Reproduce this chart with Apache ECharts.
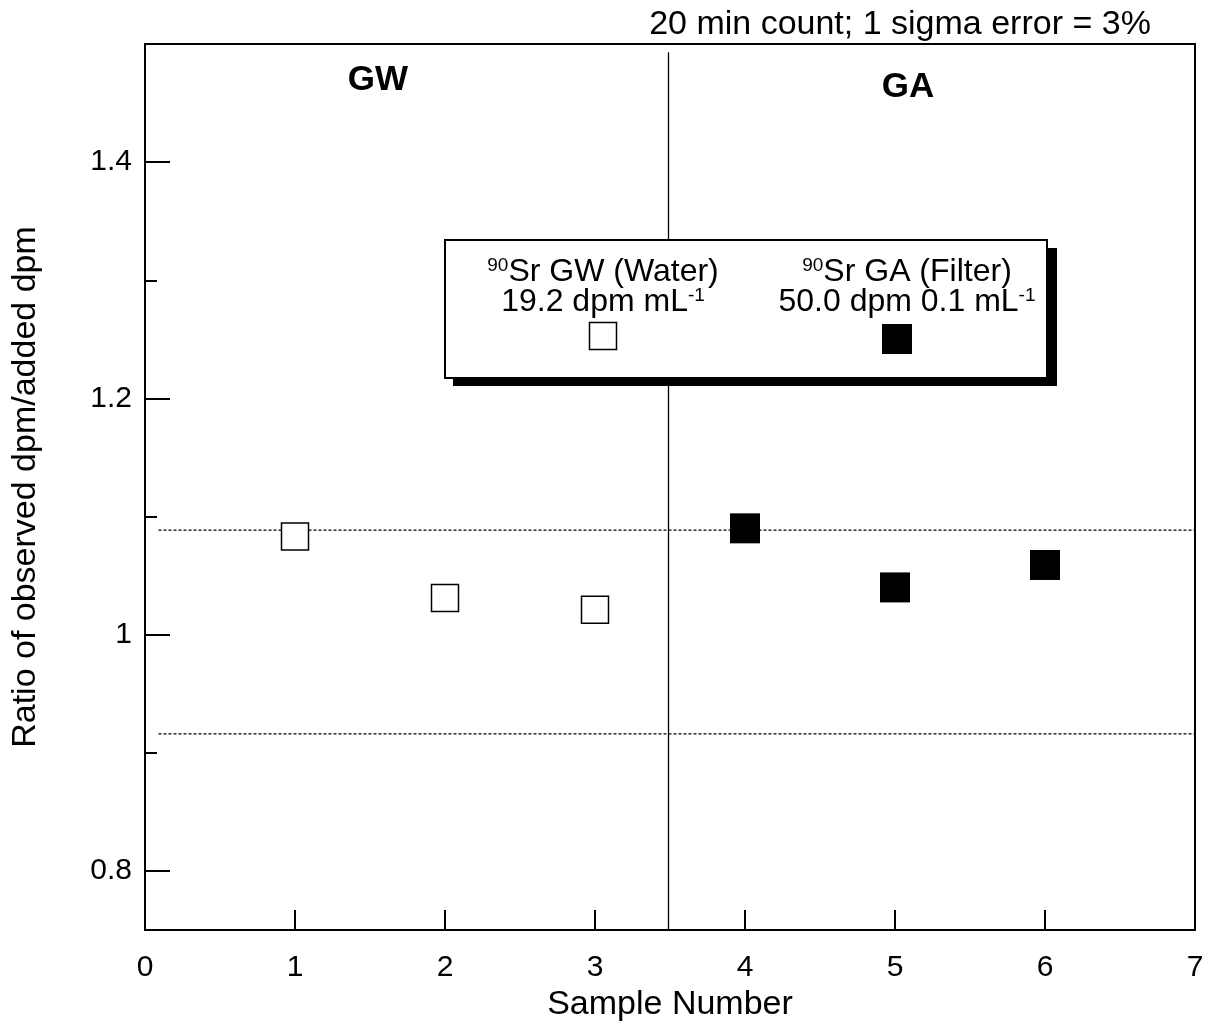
<!DOCTYPE html>
<html>
<head>
<meta charset="utf-8">
<script src="https://cdn.jsdelivr.net/npm/echarts@6/dist/echarts.min.js"></script>
<style>html,body{margin:0;padding:0;background:#fff;}#c{width:1209px;height:1032px;}</style>
</head>
<body>
<div id="c"></div>
<script>
// ---- data ----
var gwSamples = [1, 2, 3];
var gwRatios = [1.083, 1.031, 1.021];
var gaSamples = [4, 5, 6];
var gaRatios = [1.090, 1.040, 1.059];
var limitUpper = 1.0885;
var limitLower = 0.916;
var dividerX = 3.49;
var yMajorTicks = [0.8, 1.0, 1.2, 1.4];
var yMinorTicks = [0.9, 1.1, 1.3];
var xTicks = [0, 1, 2, 3, 4, 5, 6, 7];

var FONT = '"Liberation Sans", Arial, sans-serif';
var chart = echarts.init(document.getElementById('c'), null, {renderer: 'canvas'});

function pairs(xs, ys) { return xs.map(function (x, i) { return [x, ys[i]]; }); }

var supRich = {
  s: {fontFamily: FONT, fontSize: 19, fill: '#000', verticalAlign: 'top', lineHeight: 32},
  m: {fontFamily: FONT, fontSize: 32, fill: '#000', lineHeight: 32}
};

var option = {
  backgroundColor: '#fff',
  animation: false,
  grid: {left: 145, right: 14, top: 44, bottom: 102, show: true, borderColor: '#000', borderWidth: 2, containLabel: false},
  xAxis: {
    type: 'value', min: 0, max: 7, interval: 1,
    name: 'Sample Number', nameLocation: 'middle', nameGap: 54,
    nameTextStyle: {fontFamily: FONT, fontSize: 34, color: '#000'},
    axisLine: {show: true, onZero: false, lineStyle: {color: '#000', width: 2}},
    axisTick: {show: true, inside: true, length: 20, lineStyle: {color: '#000', width: 2}},
    axisLabel: {fontFamily: FONT, fontSize: 30, color: '#000', margin: 23, customValues: xTicks},
    splitLine: {show: false}
  },
  yAxis: [{
    type: 'value', min: 0.75, max: 1.5,
    name: 'Ratio of observed dpm/added dpm', nameLocation: 'middle', nameGap: 102,
    nameTextStyle: {fontFamily: FONT, fontSize: 34, color: '#000'},
    axisLine: {show: true, onZero: false, lineStyle: {color: '#000', width: 2}},
    axisTick: {show: true, inside: true, length: 25, lineStyle: {color: '#000', width: 2}, customValues: yMajorTicks},
    axisLabel: {fontFamily: FONT, fontSize: 30, color: '#000', margin: 13, customValues: yMajorTicks,
      formatter: function (v) { return String(Math.round(v * 10) / 10); }},
    splitLine: {show: false}
  }, {
    type: 'value', min: 0.75, max: 1.5, position: 'left',
    axisLine: {show: false},
    axisTick: {show: true, inside: true, length: 12, lineStyle: {color: '#000', width: 2}, customValues: yMinorTicks},
    axisLabel: {show: false, customValues: yMinorTicks},
    splitLine: {show: false}
  }],
  series: [
    {type: 'line', data: [[0.09, limitUpper], [7, limitUpper]], symbol: 'none', silent: true,
      lineStyle: {color: '#000', width: 1.2, type: [3, 2]}, z: 1},
    {type: 'line', data: [[0.09, limitLower], [7, limitLower]], symbol: 'none', silent: true,
      lineStyle: {color: '#000', width: 1.2, type: [3, 2]}, z: 1},
    {type: 'line', data: [[dividerX, 1.493], [dividerX, 0.75]], symbol: 'none', silent: true,
      lineStyle: {color: '#000', width: 1.3}, z: 1},
    {name: 'GW', type: 'scatter', data: pairs(gwSamples, gwRatios), symbol: 'rect', symbolSize: 27,
      itemStyle: {color: '#fff', borderColor: '#000', borderWidth: 1.5, opacity: 1}, z: 3},
    {name: 'GA', type: 'scatter', data: pairs(gaSamples, gaRatios), symbol: 'rect', symbolSize: 30,
      itemStyle: {color: '#000', opacity: 1}, z: 3}
  ],
  graphic: [
    {type: 'text', x: 900, y: 25, style: {text: '20 min count; 1 sigma error = 3%', font: '34px ' + FONT, fill: '#000', textAlign: 'center', textVerticalAlign: 'middle'}},
    {type: 'text', x: 378, y: 80, style: {text: 'GW', font: 'bold 35px ' + FONT, fill: '#000', textAlign: 'center', textVerticalAlign: 'middle'}},
    {type: 'text', x: 908, y: 87, style: {text: 'GA', font: 'bold 35px ' + FONT, fill: '#000', textAlign: 'center', textVerticalAlign: 'middle'}},
    // legend box shadow + box
    {type: 'rect', shape: {x: 453, y: 248, width: 604, height: 138}, style: {fill: '#000'}, z: 10},
    {type: 'rect', shape: {x: 445, y: 240, width: 602, height: 138}, style: {fill: '#fff', stroke: '#000', lineWidth: 2}, z: 11},
    {type: 'text', z: 12, x: 603, y: 272, style: {text: '{s|90}{m|Sr GW (Water)}', textAlign: 'center', textVerticalAlign: 'middle', rich: supRich}},
    {type: 'text', z: 12, x: 603, y: 302, style: {text: '{m|19.2 dpm mL}{s|-1}', textAlign: 'center', textVerticalAlign: 'middle', rich: supRich}},
    {type: 'text', z: 12, x: 907, y: 272, style: {text: '{s|90}{m|Sr GA (Filter)}', textAlign: 'center', textVerticalAlign: 'middle', rich: supRich}},
    {type: 'text', z: 12, x: 907, y: 302, style: {text: '{m|50.0 dpm 0.1 mL}{s|-1}', textAlign: 'center', textVerticalAlign: 'middle', rich: supRich}},
    {type: 'rect', z: 12, shape: {x: 589.5, y: 322.5, width: 27, height: 27}, style: {fill: '#fff', stroke: '#000', lineWidth: 1.5}},
    {type: 'rect', z: 12, shape: {x: 882, y: 324, width: 30, height: 30}, style: {fill: '#000'}}
  ]
};
chart.setOption(option);
</script>
</body>
</html>
